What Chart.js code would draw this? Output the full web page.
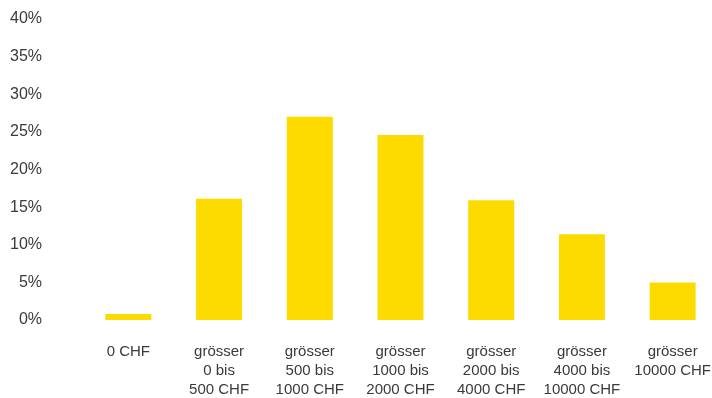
<!DOCTYPE html>
<html>
<head>
<meta charset="utf-8">
<script src="https://cdn.jsdelivr.net/npm/chart.js@4"></script>
<style>
	html, body { margin: 0; padding: 0; background: #fff; overflow: hidden; }
	#wrap { position: relative; width: 718px; height: 398px; }
</style>
</head>
<body>
<div id="wrap"><canvas id="bars"></canvas></div>
<script>
	const categories = [
		['0 CHF'],
		['grösser', '0 bis', '500 CHF'],
		['grösser', '500 bis', '1000 CHF'],
		['grösser', '1000 bis', '2000 CHF'],
		['grösser', '2000 bis', '4000 CHF'],
		['grösser', '4000 bis', '10000 CHF'],
		['grösser', '10000 CHF']
	];
	const shares = [0.8, 16.1, 27.0, 24.6, 15.9, 11.4, 5.0];
	const yTicks = [0, 5, 10, 15, 20, 25, 30, 35, 40];

	const YELLOW = '#FDDB00';
	const TEXT = '#3a3a3a';

	const config = {
		type: 'bar',
		data: {
			labels: categories,
			datasets: [{
				data: shares,
				backgroundColor: YELLOW,
				borderWidth: 0,
				categoryPercentage: 1,
				barPercentage: 0.507
			}]
		},
		options: {
			responsive: true,
			maintainAspectRatio: false,
			animation: false,
			layout: { padding: { top: 19, right: 0, bottom: 0, left: 0 } },
			plugins: {
				legend: { display: false },
				tooltip: { enabled: false }
			},
			scales: {
				x: {
					grid: { display: false, drawTicks: false },
					border: { display: false },
					ticks: {
						color: TEXT,
						font: { family: 'Liberation Sans, Arial, sans-serif', size: 15, lineHeight: 1.24 },
						padding: 23,
						maxRotation: 0,
						autoSkip: false
					},
					afterFit: function (scale) {
						scale.height = 78;
						scale.paddingLeft = 0;
						scale.paddingRight = 0;
					}
				},
				y: {
					min: 0,
					max: 40,
					grid: { display: false, drawTicks: false },
					border: { display: false },
					afterBuildTicks: function (scale) {
						scale.ticks = yTicks.map(v => ({ value: v }));
					},
					ticks: {
						color: TEXT,
						font: { family: 'Liberation Sans, Arial, sans-serif', size: 16 },
						padding: 41,
						callback: v => v + '%'
					},
					afterFit: function (scale) {
						scale.width = 83;
						scale.paddingTop = 0;
						scale.paddingBottom = 0;
					}
				}
			}
		}
	};

	new Chart(document.getElementById('bars'), config);
</script>
</body>
</html>
